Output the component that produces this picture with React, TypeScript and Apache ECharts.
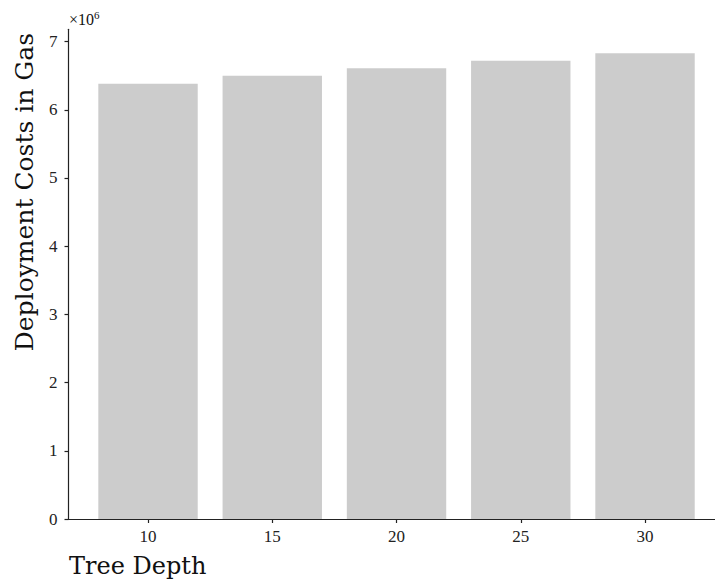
import React, { useEffect, useRef } from "react";
import * as echarts from "echarts";

const depths = [10, 15, 20, 25, 30];
const gasCosts = [6380000, 6500000, 6610000, 6720000, 6830000];
const yTicks = [0, 1, 2, 3, 4, 5, 6, 7];

export default function App() {
  const ref = useRef<HTMLDivElement>(null);
  useEffect(() => {
    if (!ref.current) return;
    const chart = echarts.init(ref.current, null, { renderer: "svg" });
    const tickFont = "Liberation Serif";
    const labelFont = "DejaVu Serif";
    chart.setOption({
      animation: false,
      backgroundColor: "#ffffff",
      grid: { left: 68.5, right: 0, top: 29.3, bottom: 67, containLabel: false },
      xAxis: {
        type: "value",
        min: 6.8,
        max: 32.816,
        splitLine: { show: false },
        axisLine: { show: true, onZero: false, lineStyle: { color: "#222", width: 1.2 } },
        axisTick: {
          show: true,
          customValues: depths,
          length: 4,
          lineStyle: { color: "#222", width: 1.2 },
        },
        axisLabel: {
          customValues: depths,
          color: "#222",
          fontFamily: tickFont,
          fontSize: 17,
          margin: 9,
        },
      },
      yAxis: {
        type: "value",
        min: 0,
        max: 7180000,
        interval: 1000000,
        splitLine: { show: false },
        axisLine: { show: true, lineStyle: { color: "#222", width: 1.2 } },
        axisTick: {
          show: true,
          customValues: yTicks.map((v) => v * 1000000),
          length: 4,
          lineStyle: { color: "#222", width: 1.2 },
        },
        axisLabel: {
          customValues: yTicks.map((v) => v * 1000000),
          formatter: (v: number) => String(Math.round(v / 1000000)),
          color: "#222",
          fontFamily: tickFont,
          fontSize: 17,
          margin: 11,
        },
      },
      series: [
        {
          type: "bar",
          data: depths.map((d, i) => [d, gasCosts[i]]),
          barWidth: 99.4,
          itemStyle: { color: "#cccccc" },
        },
      ],
      graphic: [
        {
          type: "text",
          x: 69,
          y: 566,
          style: {
            text: "Tree Depth",
            fontFamily: labelFont,
            fontSize: 24,
            fill: "#111",
            align: "left",
            verticalAlign: "middle",
          },
        },
        {
          type: "text",
          x: 24,
          y: 33,
          rotation: Math.PI / 2,
          style: {
            text: "Deployment Costs in Gas",
            fontFamily: labelFont,
            fontSize: 25,
            fill: "#111",
            align: "right",
            verticalAlign: "middle",
          },
        },
        {
          type: "text",
          x: 69,
          y: 19,
          style: {
            text: "{a|×10}{b|6}",
            fill: "#111",
            align: "left",
            verticalAlign: "middle",
            rich: {
              a: { fontFamily: tickFont, fontSize: 16, fill: "#111" },
              b: { fontFamily: tickFont, fontSize: 11, fill: "#111", verticalAlign: "top", padding: [0, 0, 9, 0] },
            },
          },
        },
      ],
    });
    return () => chart.dispose();
  }, []);
  return (
    <div
      ref={ref}
      style={{ position: "fixed", left: 0, top: 0, width: 715, height: 586, background: "#fff" }}
    />
  );
}
